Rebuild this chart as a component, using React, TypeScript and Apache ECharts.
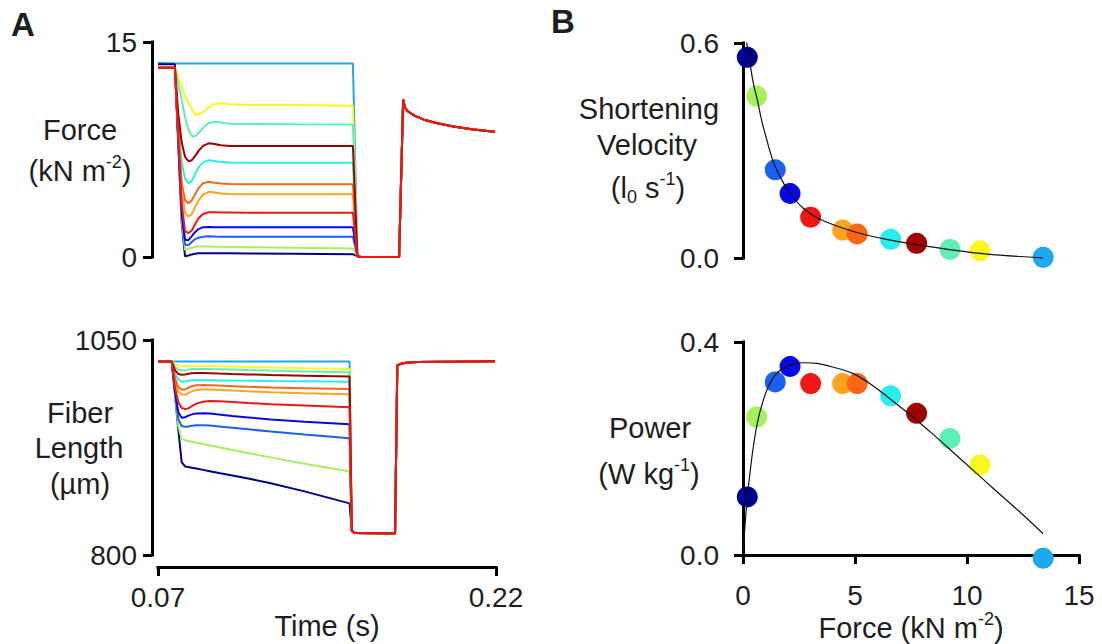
import React, { useEffect, useRef } from 'react';
import * as echarts from 'echarts';

// ---------- time axes (s) ----------
const TIME_SHORTEN_F = [0.070, 0.0775, 0.0790, 0.0805, 0.0820, 0.0835, 0.0850, 0.0865, 0.0880, 0.0900, 0.0925, 0.0950, 0.0980, 0.1020, 0.1100, 0.1300, 0.1565];
const TIME_RECOVER_F = [0.1585, 0.1600, 0.1770, 0.1788, 0.1796, 0.1810, 0.1840, 0.1880, 0.1940, 0.2010, 0.2100, 0.2195];
const FORCE_RECOVER = [0.05, 0.0, 0.0, 11.0, 10.4, 10.15, 9.85, 9.58, 9.33, 9.1, 8.9, 8.74];

const TIME_SHORTEN_L = [0.070, 0.0761, 0.0775, 0.0790, 0.0805, 0.0820, 0.0835, 0.0850, 0.0870, 0.0900, 0.0930, 0.0970, 0.1030, 0.1100, 0.1200, 0.1350, 0.1550];
const TIME_RECOVER_L = [0.1560, 0.1575, 0.1752, 0.1762, 0.1775, 0.1800, 0.1850, 0.2000, 0.2195];
const LENGTH_RECOVER = [828, 825.5, 825, 1020.5, 1022, 1023.5, 1024.3, 1024.8, 1025.2];

// ---------- force traces (kN m-2) ----------
const forceNavy = [13.45, 13.45, 7.9, 2.4, 0.05, 0.1, 0.18, 0.23, 0.26, 0.27, 0.27, 0.27, 0.26, 0.26, 0.25, 0.23, 0.2];
const forceLightGreen = [13.2, 13.2, 8.0, 2.6, 0.5, 0.56, 0.65, 0.72, 0.74, 0.74, 0.73, 0.72, 0.71, 0.7, 0.68, 0.64, 0.6];
const forceBlue = [13.2, 13.2, 8.1, 2.9, 0.85, 0.83, 1.05, 1.25, 1.35, 1.42, 1.44, 1.43, 1.42, 1.42, 1.42, 1.42, 1.42];
const forceMediumBlue = [13.2, 13.2, 8.2, 3.2, 1.2, 1.17, 1.45, 1.75, 1.95, 2.08, 2.1, 2.08, 2.07, 2.07, 2.07, 2.07, 2.07];
const forceRed = [13.2, 13.2, 8.4, 3.7, 1.8, 1.67, 1.85, 2.3, 2.7, 3.0, 3.12, 3.12, 3.1, 3.1, 3.09, 3.09, 3.09];
const forceOrange = [13.2, 13.2, 8.7, 4.6, 3.05, 2.83, 3.0, 3.5, 3.95, 4.35, 4.55, 4.5, 4.43, 4.4, 4.38, 4.38, 4.37];
const forceOrangeRed = [13.2, 13.2, 8.9, 5.2, 3.95, 3.75, 3.95, 4.4, 4.8, 5.15, 5.25, 5.18, 5.12, 5.1, 5.08, 5.08, 5.08];
const forceCyan = [13.2, 13.2, 9.3, 6.6, 5.5, 5.15, 5.3, 5.8, 6.25, 6.6, 6.75, 6.7, 6.62, 6.6, 6.58, 6.58, 6.58];
const forceDarkRed = [13.2, 13.2, 10.0, 8.0, 7.0, 6.68, 6.75, 7.05, 7.4, 7.75, 7.93, 7.88, 7.8, 7.75, 7.75, 7.75, 7.75];
const forceAquamarine = [13.2, 13.2, 12.1, 11.0, 9.75, 8.9, 8.45, 8.42, 8.65, 9.0, 9.35, 9.44, 9.38, 9.3, 9.28, 9.26, 9.25];
const forceYellow = [13.2, 13.2, 12.6, 11.9, 11.2, 10.75, 10.35, 9.92, 9.95, 10.1, 10.45, 10.65, 10.72, 10.65, 10.6, 10.6, 10.55];
const forceIsometric = [13.55, 13.5, 13.5, 13.5, 13.5, 13.5, 13.5, 13.5, 13.5, 13.5, 13.5, 13.5, 13.5, 13.5, 13.5, 13.5, 13.5];

// ---------- fiber length traces (µm) ----------
const lengthNavy = [1025, 1025, 988, 946, 908, 903, 902.2, 901.5, 900.5, 899, 897.5, 895.3, 892.5, 889, 883.5, 874, 860];
const lengthLightGreen = [1025, 1025, 988, 950, 935, 933.5, 932.5, 931.6, 930.5, 929, 927.3, 925.2, 922, 918.5, 913.5, 906, 897];
const lengthBlue = [1025, 1025, 990, 958, 950, 949, 949.5, 950.3, 951, 951, 950.5, 949.5, 948, 946.2, 943.5, 940, 935.7];
const lengthMediumBlue = [1025, 1025, 992, 966, 959.5, 960.2, 962, 963.5, 964.5, 964.8, 964.4, 963.4, 961.7, 960, 957.6, 954.8, 952];
const lengthRed = [1025, 1025, 995, 978, 971, 969.6, 970.5, 973, 976, 978.2, 979, 978.7, 977.8, 976.7, 975.3, 973.8, 971.7];
const lengthOrange = [1025, 1025, 1003, 990, 986.5, 986.3, 988.3, 990.3, 991.9, 992.6, 992.5, 992, 991.2, 990.3, 989.3, 988.2, 987];
const lengthOrangeRed = [1025, 1025, 1006, 995, 992.5, 992.5, 994.5, 996.2, 997.3, 997.7, 997.5, 997, 996.3, 995.5, 994.8, 994, 993];
const lengthCyan = [1025, 1025, 1011, 1004, 1001.5, 1001.8, 1002.6, 1003.1, 1003.3, 1003.3, 1003.2, 1003, 1002.8, 1002.6, 1002.3, 1002, 1001.5];
const lengthDarkRed = [1025, 1025, 1015, 1010.5, 1009.5, 1010, 1010.8, 1011.3, 1011.6, 1011.6, 1011.4, 1011, 1010.5, 1010, 1009.3, 1008.5, 1007.5];
const lengthAquamarine = [1025, 1025, 1019, 1015.5, 1014.8, 1015.2, 1015.8, 1016.2, 1016.4, 1016.4, 1016.2, 1016, 1015.6, 1015.1, 1014.4, 1013.5, 1012.5];
const lengthYellow = [1025, 1025, 1022, 1020, 1019.3, 1019.4, 1019.7, 1019.9, 1020, 1020, 1019.8, 1019.5, 1019.1, 1018.6, 1018, 1017.2, 1016.3];
const lengthIsometric = [1025, 1025, 1025, 1025, 1025, 1025, 1025, 1025, 1025, 1025, 1025, 1025, 1025, 1025, 1025, 1025, 1025];

// ---------- per-contraction summary (panel B) ----------
const LOAD_FORCE = [0.19, 0.61, 1.44, 2.10, 3.02, 4.45, 5.10, 6.59, 7.75, 9.24, 10.58, 13.40];
const VELOCITY = [0.560, 0.452, 0.246, 0.180, 0.114, 0.078, 0.067, 0.052, 0.041, 0.024, 0.020, 0.002];
const POWER = [0.109, 0.259, 0.325, 0.354, 0.322, 0.322, 0.322, 0.299, 0.266, 0.219, 0.169, -0.006];
const COLORS = ['#00008f', '#a6f05c', '#1c60f2', '#0808e4', '#f01616', '#ffa21e', '#f86616', '#28eeee', '#a00000', '#5ef0b2', '#f8f81e', '#1ea8ee'];

// fitted curves
const VCURVE_F = [0.164, 0.31, 0.46, 0.64, 0.83, 1.06, 1.35, 1.73, 2.1, 2.69, 3.44, 4.93, 6.41, 7.9, 9.39, 10.88, 13.4];
const VCURVE_V = [0.601, 0.544, 0.488, 0.441, 0.385, 0.33, 0.269, 0.218, 0.18, 0.139, 0.108, 0.074, 0.052, 0.036, 0.022, 0.011, 0.0];
const PCURVE_F = [0, 0.08, 0.18, 0.3, 0.45, 0.65, 0.9, 1.2, 1.6, 2.1, 2.7, 3.3, 4.0, 4.9, 5.8, 6.6, 7.5, 8.5, 9.4, 10.3, 11.2, 12.3, 13.4];
const PCURVE_P = [0, 0.05, 0.103, 0.15, 0.2, 0.25, 0.29, 0.322, 0.345, 0.357, 0.361, 0.36, 0.353, 0.341, 0.318, 0.292, 0.262, 0.226, 0.192, 0.158, 0.124, 0.083, 0.04];

// tick labels
const TIME_TICKS = [0.07, 0.22];
const FORCE_TICKS = [0, 15];
const LENGTH_TICKS = [800, 1050];
const VELOCITY_TICKS = [0, 0.6];
const POWER_TICKS = [0, 0.4];
const LOAD_TICKS = [0, 5, 10, 15];

const FORCE_TRACES = [forceNavy, forceLightGreen, forceBlue, forceMediumBlue, forceRed, forceOrange, forceOrangeRed, forceCyan, forceDarkRed, forceAquamarine, forceYellow, forceIsometric];
const LENGTH_TRACES = [lengthNavy, lengthLightGreen, lengthBlue, lengthMediumBlue, lengthRed, lengthOrange, lengthOrangeRed, lengthCyan, lengthDarkRed, lengthAquamarine, lengthYellow, lengthIsometric];
const DRAW_ORDER = [11, 0, 1, 2, 3, 10, 9, 7, 5, 6, 8, 4];

const FONT = "'Liberation Sans', Arial, Helvetica, sans-serif";
const TXT = '#1e1e1e';
const FS_TICK = 28;
const FS = 29;

function valueAxis(gridIndex: number, min: number, max: number, ticks: number[] | null, fmt: ((v: number) => string) | null, offset: number, margin: number, extra: any = {}) {
  if (!ticks) {
    return { type: 'value', gridIndex, min, max, show: false };
  }
  return {
    type: 'value',
    gridIndex,
    min,
    max,
    offset,
    axisLine: { show: true, lineStyle: { color: '#000', width: 3, cap: 'square' } },
    axisTick: { show: true, length: 9, customValues: ticks, lineStyle: { color: '#000', width: 3 } },
    axisLabel: {
      show: true,
      customValues: ticks,
      formatter: fmt ? (v: number) => fmt(v) : undefined,
      margin,
      fontSize: FS_TICK,
      fontFamily: FONT,
      color: TXT,
    },
    splitLine: { show: false },
    minorTick: { show: false },
    ...extra,
  };
}

function buildOption() {
  const series: any[] = [];
  DRAW_ORDER.forEach((i) => {
    const f = FORCE_TRACES[i];
    const l = LENGTH_TRACES[i];
    series.push({
      type: 'line',
      xAxisIndex: 0,
      yAxisIndex: 0,
      data: [
        ...TIME_SHORTEN_F.map((t, k) => [t, f[k]]),
        ...TIME_RECOVER_F.map((t, k) => [t, FORCE_RECOVER[k]]),
      ],
      showSymbol: false,
      clip: false,
      silent: true,
      lineStyle: { color: COLORS[i], width: 2 },
    });
    series.push({
      type: 'line',
      xAxisIndex: 1,
      yAxisIndex: 1,
      data: [
        ...TIME_SHORTEN_L.map((t, k) => [t, l[k]]),
        ...TIME_RECOVER_L.map((t, k) => [t, LENGTH_RECOVER[k]]),
      ],
      showSymbol: false,
      clip: false,
      silent: true,
      lineStyle: { color: COLORS[i], width: 2 },
    });
  });

  series.push({
    type: 'scatter',
    xAxisIndex: 2,
    yAxisIndex: 2,
    symbolSize: 21,
    clip: false,
    data: LOAD_FORCE.map((f, k) => ({ value: [f, VELOCITY[k]], itemStyle: { color: COLORS[k], opacity: 1 } })),
  });
  series.push({
    type: 'line',
    xAxisIndex: 2,
    yAxisIndex: 2,
    smooth: 0.3,
    showSymbol: false,
    clip: false,
    lineStyle: { color: '#111', width: 1.2 },
    data: VCURVE_F.map((f, k) => [f, VCURVE_V[k]]),
  });
  series.push({
    type: 'scatter',
    xAxisIndex: 3,
    yAxisIndex: 3,
    symbolSize: 21,
    clip: false,
    data: LOAD_FORCE.map((f, k) => ({ value: [f, POWER[k]], itemStyle: { color: COLORS[k], opacity: 1 } })),
  });
  series.push({
    type: 'line',
    xAxisIndex: 3,
    yAxisIndex: 3,
    smooth: 0.3,
    showSymbol: false,
    clip: false,
    lineStyle: { color: '#111', width: 1.2 },
    data: PCURVE_F.map((f, k) => [f, PCURVE_P[k]]),
  });

  const main = { fontSize: FS, fontFamily: FONT, color: TXT, lineHeight: 36 };
  const sup = { fontSize: 18, fontFamily: FONT, color: TXT, verticalAlign: 'top', lineHeight: 18 };
  const sub = { fontSize: 18, fontFamily: FONT, color: TXT, verticalAlign: 'bottom', lineHeight: 18 };
  const gtext = (x: number, y: number, text: string, extra: any = {}) => ({
    type: 'text',
    x,
    y,
    silent: true,
    style: {
      text,
      fontSize: FS,
      fontFamily: FONT,
      fill: TXT,
      align: 'center',
      verticalAlign: 'middle',
      rich: { a: main, s: sup, b: sub },
      ...extra,
    },
  });

  const graphic = [
    gtext(23, 24, 'A', { fontSize: 33, fontWeight: 'bold' }),
    gtext(563, 21, 'B', { fontSize: 33, fontWeight: 'bold' }),
    gtext(80, 130, 'Force'),
    gtext(80, 171, '{a|(kN m}{s|-2}{a|)}'),
    gtext(80, 413, 'Fiber'),
    gtext(79, 448, 'Length'),
    gtext(80, 484, '(µm)'),
    gtext(649, 109, 'Shortening'),
    gtext(647, 145, 'Velocity'),
    gtext(648, 188, '{a|(l}{b|0}{a| s}{s|-1}{a|)}'),
    gtext(650, 428, 'Power'),
    gtext(649, 474, '{a|(W kg}{s|-1}{a|)}'),
  ];

  return {
    animation: false,
    backgroundColor: '#ffffff',
    textStyle: { fontFamily: FONT },
    grid: [
      { left: 158, top: 42, width: 338, height: 215, outerBoundsMode: 'none' },
      { left: 158, top: 340, width: 338, height: 215, outerBoundsMode: 'none' },
      { left: 743, top: 43, width: 336, height: 215, outerBoundsMode: 'none' },
      { left: 743, top: 342, width: 336, height: 213, outerBoundsMode: 'none' },
    ],
    xAxis: [
      valueAxis(0, 0.07, 0.22, null, null, 0, 0),
      valueAxis(1, 0.07, 0.22, TIME_TICKS, (v) => v.toFixed(2), 12, 16, {
        name: 'Time (s)',
        nameLocation: 'middle',
        nameGap: 38,
        nameTextStyle: { fontSize: FS, fontFamily: FONT, color: TXT },
      }),
      valueAxis(2, 0, 15, null, null, 0, 0),
      valueAxis(3, 0, 15, LOAD_TICKS, (v) => String(v), 11, 15, {
        name: '{a|Force (kN m}{s|-2}{a|)}',
        nameLocation: 'middle',
        nameGap: 41,
        nameTextStyle: { fontSize: FS, fontFamily: FONT, color: TXT, rich: { a: main, s: sup } },
      }),
    ],
    yAxis: [
      valueAxis(0, 0, 15, FORCE_TICKS, (v) => String(v), 6, 15),
      valueAxis(1, 800, 1050, LENGTH_TICKS, (v) => String(v), 6, 15),
      valueAxis(2, 0, 0.6, VELOCITY_TICKS, (v) => v.toFixed(1), 9, 15),
      valueAxis(3, 0, 0.4, POWER_TICKS, (v) => v.toFixed(1), 9, 15),
    ],
    series,
    graphic,
  };
}

export default function App() {
  const ref = useRef<HTMLDivElement>(null);
  useEffect(() => {
    if (!ref.current) return;
    const chart = echarts.init(ref.current, undefined, { renderer: 'svg' });
    chart.setOption(buildOption() as any);
    return () => {
      chart.dispose();
    };
  }, []);
  return (
    <div
      ref={ref}
      style={{ position: 'fixed', left: 0, top: 0, width: 1102, height: 644, background: '#fff' }}
    />
  );
}
